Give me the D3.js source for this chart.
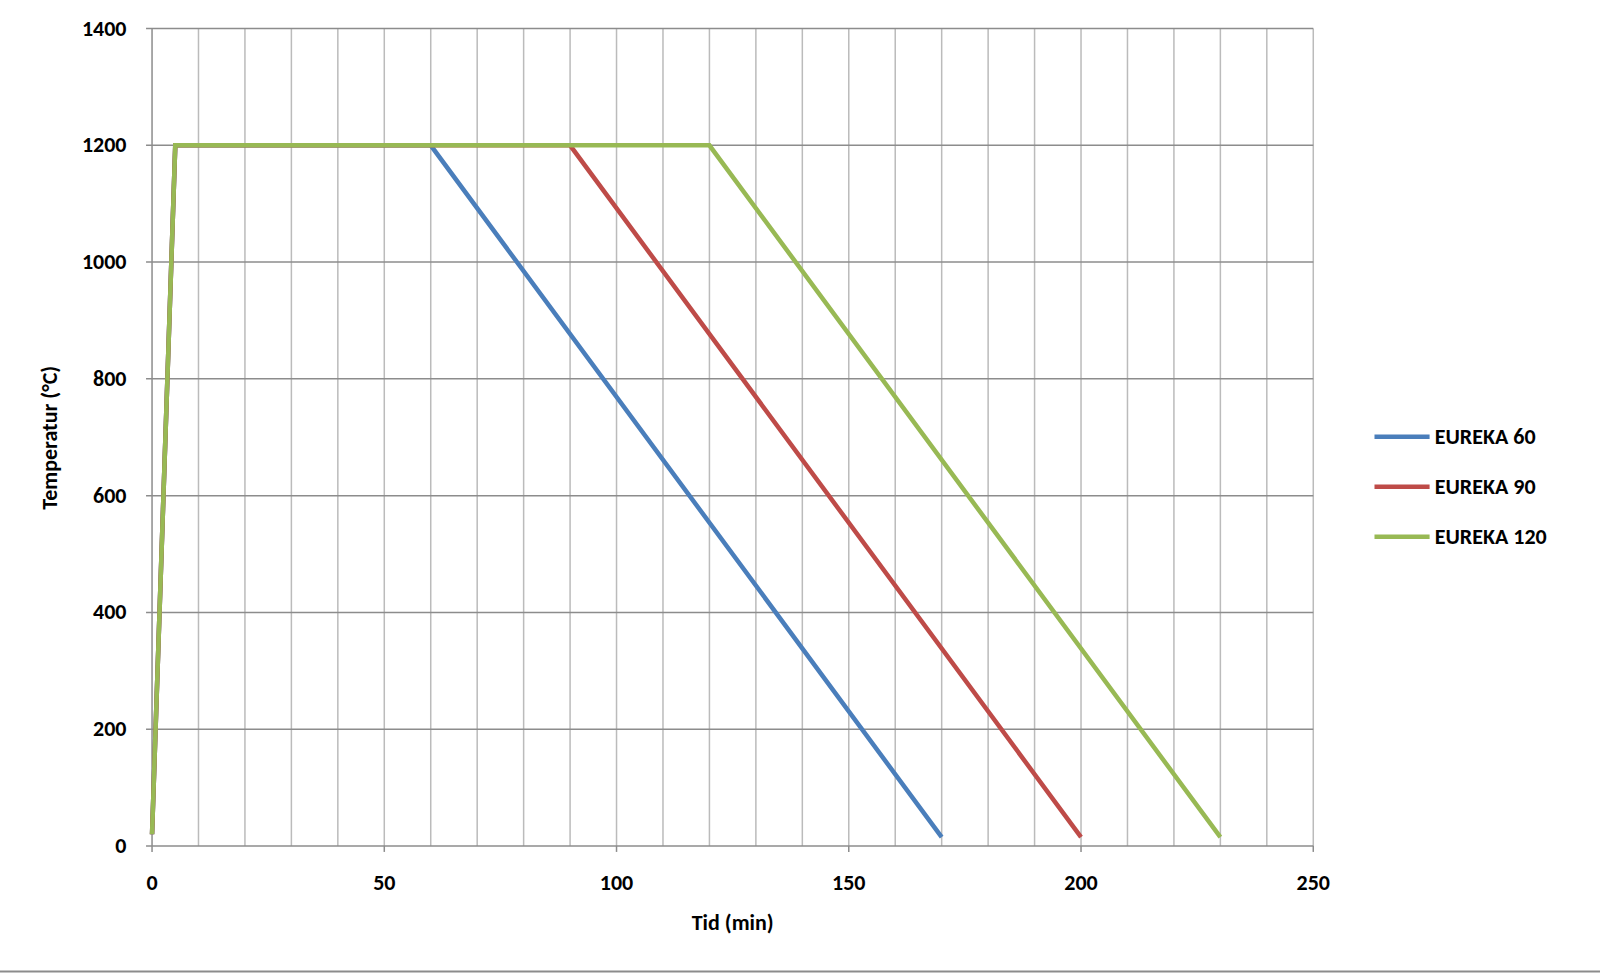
<!DOCTYPE html><html><head><meta charset="utf-8"><script src="https://cdn.jsdelivr.net/npm/d3@7"></script>
<style>body{margin:0;background:#fff}text{font-family:Calibri,Carlito,"Liberation Sans",Arial,sans-serif;font-weight:bold;fill:#000}</style></head><body>
<svg id="c" width="1600" height="973"></svg>
<script>
const seriesNames=["EUREKA 60","EUREKA 90","EUREKA 120"];
const seriesColors=["#4a7ebb","#be4b48","#98b954"];
const timeValues=[[0,5,60,170],[0,5,90,200],[0,5,120,230]];
const tempValues=[[20,1200,1200,15],[20,1200,1200,15],[20,1200,1200,15]];
const xTicks=[0,50,100,150,200,250];
const yTicks=[0,200,400,600,800,1000,1200,1400];
const k=1600/1568;
const svg=d3.select("#c");
const x=d3.scaleLinear().domain([0,250]).range([149*k,1287*k]);
const y=d3.scaleLinear().domain([0,1400]).range([829*k,28*k]);
const g=svg.append("g");
g.selectAll(".vg").data(d3.range(10,251,10)).join("line").attr("x1",d=>x(d)).attr("x2",d=>x(d)).attr("y1",y(0)).attr("y2",y(1400)).attr("stroke","#bbb").attr("stroke-width",1.5);
g.selectAll(".hg").data(yTicks.slice(1)).join("line").attr("x1",x(0)-6).attr("x2",x(250)).attr("y1",d=>y(d)).attr("y2",d=>y(d)).attr("stroke","#8c8c8c").attr("stroke-width",1.5);
g.append("line").attr("x1",x(0)).attr("x2",x(0)).attr("y1",y(0)).attr("y2",y(1400)).attr("stroke","#8c8c8c").attr("stroke-width",1.5);
g.append("line").attr("x1",x(0)-6).attr("x2",x(250)).attr("y1",y(0)).attr("y2",y(0)).attr("stroke","#8c8c8c").attr("stroke-width",1.5);
g.selectAll(".xt").data(xTicks).join("line").attr("x1",d=>x(d)).attr("x2",d=>x(d)).attr("y1",y(0)).attr("y2",y(0)+6).attr("stroke","#8c8c8c").attr("stroke-width",1.5);
g.selectAll(".xl").data(xTicks).join("text").attr("x",d=>x(d)).attr("y",872*k).attr("text-anchor","middle").attr("font-size",22).text(d=>d);
g.selectAll(".yl").data(yTicks).join("text").attr("x",124*k).attr("y",d=>y(d)+7).attr("text-anchor","end").attr("font-size",22).text(d=>d);
svg.append("text").attr("x",718*k).attr("y",911*k).attr("text-anchor","middle").attr("font-size",22).text("Tid (min)");
svg.append("text").attr("transform",`translate(${56*k},${429*k}) rotate(-90)`).attr("text-anchor","middle").attr("font-size",22).text("Temperatur (°C)");
const line=d3.line().x(d=>x(d[0])).y(d=>y(d[1]));
seriesNames.forEach((n,i)=>{
  const pts=timeValues[i].map((t,j)=>[t,tempValues[i][j]]);
  svg.append("path").attr("d",line(pts)).attr("fill","none").attr("stroke",seriesColors[i]).attr("stroke-width",4.5);
  const ly=(428+i*49)*k;
  svg.append("line").attr("x1",1347*k).attr("x2",1401*k).attr("y1",ly).attr("y2",ly).attr("stroke",seriesColors[i]).attr("stroke-width",4.5);
  svg.append("text").attr("x",1406*k).attr("y",ly+7).attr("font-size",22).text(n);
});
svg.append("line").attr("x1",0).attr("x2",1600).attr("y1",952*k).attr("y2",952*k).attr("stroke","#8c8c8c").attr("stroke-width",2);
</script></body></html>
